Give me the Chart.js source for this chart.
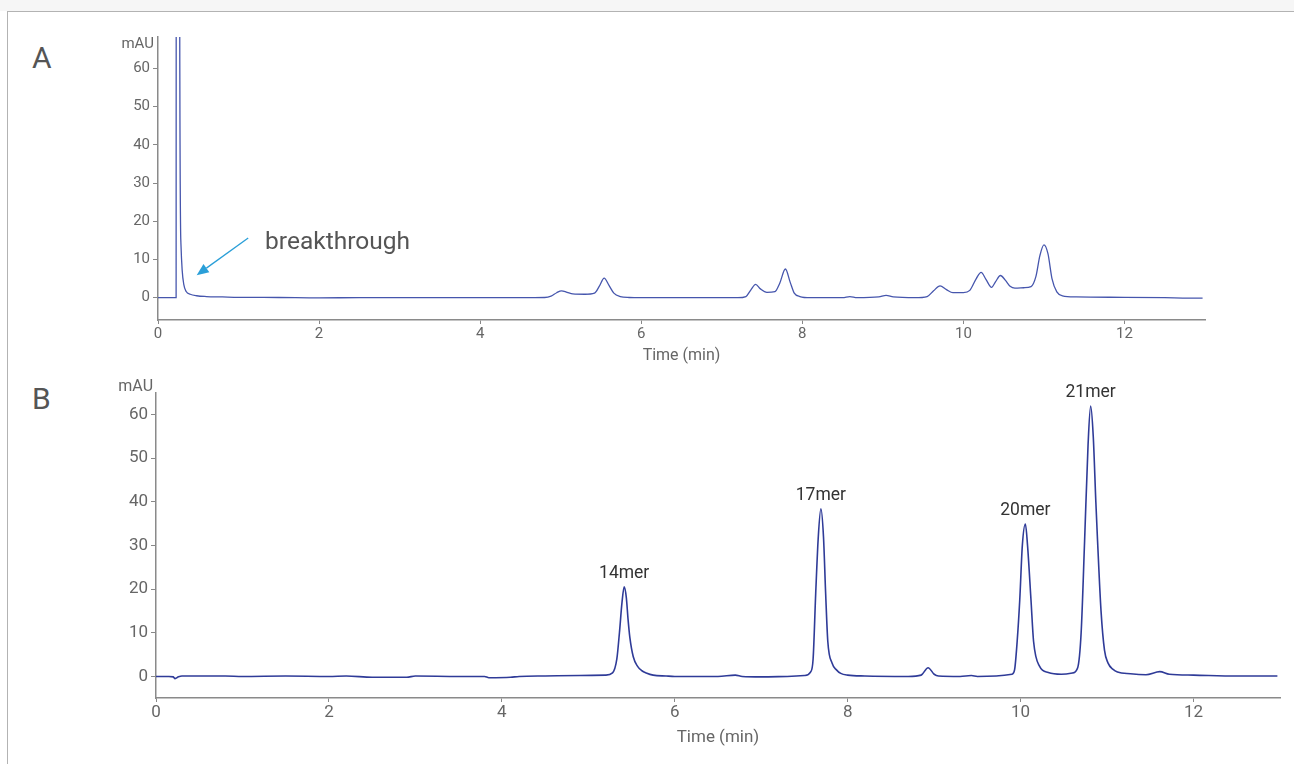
<!DOCTYPE html>
<html><head><meta charset="utf-8">
<script src="https://cdn.jsdelivr.net/npm/chart.js@4.4.1/dist/chart.umd.min.js"></script>
<style>
html,body{margin:0;padding:0;background:#fff;width:1294px;height:764px;overflow:hidden;font-family:Roboto,Arial,sans-serif;}
#strip{position:absolute;left:0;top:0;width:1294px;height:11px;background:#f6f6f6;}
#frame{position:absolute;left:7px;top:11px;width:1300px;height:800px;border-top:1.5px solid #b3b3b3;border-left:1.5px solid #b3b3b3;box-sizing:border-box;}
.panel{position:absolute;font-size:30px;color:#555;line-height:normal;}
#wA{position:absolute;left:0;top:0;width:1294px;height:366px;}
#wB{position:absolute;left:0;top:366px;width:1294px;height:382px;}
</style></head>
<body>
<div id="strip"></div><div id="frame"></div>
<div class="panel" style="left:32px;top:40px;">A</div>
<div class="panel" style="left:32px;top:381px;">B</div>
<div id="wA"><canvas id="cA" width="1294" height="366"></canvas></div>
<div id="wB"><canvas id="cB" width="1294" height="382"></canvas></div>
<script>
// ---- Data ----
const timeA = [0,0.22,0.225,0.23,0.265,0.27,0.285,0.3,0.32,0.35,0.4,0.48,0.6,0.8,1.0,1.5,2.0,2.5,3.0,3.5,4.0,4.5,4.8,4.88,4.95,5.01,5.08,5.15,5.3,5.42,5.48,5.54,5.6,5.66,5.74,5.85,6.0,6.5,7.0,7.2,7.3,7.36,7.42,7.48,7.56,7.66,7.72,7.79,7.85,7.9,7.97,8.1,8.5,8.59,8.68,8.95,9.04,9.13,9.4,9.55,9.63,9.71,9.79,9.87,10.0,10.08,10.16,10.22,10.28,10.35,10.4,10.46,10.52,10.58,10.64,10.75,10.84,10.9,10.95,11.0,11.05,11.1,11.16,11.23,11.4,12.0,12.5,12.8,12.97];
const signalA = [0,0,0,400,400,70,14,7.2,3.5,1.6,0.9,0.5,0.3,0.2,0.1,0.05,-0.05,0,0,0,0,0,0.05,0.4,1.3,1.8,1.4,1.0,0.9,1.2,3.0,5.1,3.2,1.2,0.3,0.05,0,0,0,0,0.3,2.0,3.5,2.3,1.4,1.6,3.8,7.5,4.0,1.2,0.3,0,0,0.3,0,0.2,0.6,0.2,0,0.3,1.8,3.1,2.1,1.3,1.3,1.9,5.0,6.6,4.8,2.7,4.2,5.8,4.6,3.0,2.5,2.6,2.9,5.5,11.0,13.8,11.5,5.0,1.5,0.5,0.2,0.1,0,-0.1,-0.1];

const timeB = [0,0.15,0.2,0.22,0.26,0.3,0.8,1.0,1.5,2.0,2.2,2.5,2.9,3.0,3.5,3.8,3.85,4.1,4.2,4.5,4.9,5.2,5.28,5.33,5.36,5.39,5.415,5.44,5.46,5.48,5.52,5.57,5.62,5.67,5.75,5.9,6.0,6.5,6.7,6.78,7.0,7.3,7.5,7.57,7.6,7.63,7.66,7.69,7.72,7.745,7.77,7.82,7.87,7.92,8.0,8.2,8.7,8.85,8.93,9.0,9.05,9.3,9.43,9.5,9.9,9.93,9.96,9.99,10.02,10.055,10.08,10.12,10.15,10.22,10.32,10.47,10.6,10.66,10.7,10.74,10.78,10.81,10.84,10.87,10.89,10.93,10.97,11.01,11.07,11.12,11.27,11.45,11.61,11.72,12.0,12.5,12.97];
const signalB = [0,0,-0.1,-0.5,-0.1,0.1,0.1,0,0.1,0,0.1,-0.2,-0.2,0.1,0,0,-0.3,-0.2,0,0.1,0.2,0.3,0.8,4,10,17,20.5,18,13,9,4.5,2.3,1.3,0.8,0.3,0.1,0,0,0.3,0,-0.1,0,0.2,1.0,4,19,32,38.4,32,19,8,3.0,1.5,0.7,0.3,0.1,0,0.3,2.0,0.5,0.1,0,0.2,0,0.5,1.5,8,17.5,30,34.9,30,17.5,8,2.3,0.9,0.5,0.8,2,10,31,53,61.9,55,40,31,15,6,3.1,1.6,1.0,0.6,0.4,1.1,0.5,0.3,0.1,0.1];

const peakLabels  = ['14mer','17mer','20mer','21mer'];
const peakTimes   = [5.415, 7.69, 10.055, 10.81];
const peakHeights = [20.5, 38.4, 34.9, 61.9];

const xTicks = [0,2,4,6,8,10,12];
const yTicks = [0,10,20,30,40,50,60];
const xTitle = 'Time (min)';
const yUnit = 'mAU';
const noteText = 'breakthrough';

// ---- Plugin for unit label, peak labels, annotation ----
const extras = {
  id: 'extras',
  afterDraw(chart, args, o) {
    const {ctx, chartArea, scales:{x, y}} = chart;
    ctx.save();
    ctx.fillStyle = '#666';
    ctx.font = o.unitFont;
    ctx.textAlign = 'right';
    ctx.textBaseline = 'middle';
    ctx.fillText(yUnit, chartArea.left + o.unitDx, chartArea.top + o.unitDy);
    if (o.peaks) {
      ctx.fillStyle = '#333';
      ctx.font = '17.5px Roboto, Arial, sans-serif';
      ctx.textAlign = 'center';
      ctx.textBaseline = 'middle';
      peakLabels.forEach((lab, i) => {
        ctx.fillText(lab, x.getPixelForValue(peakTimes[i]), y.getPixelForValue(peakHeights[i]) - 13);
      });
    }
    if (o.note) {
      const n = o.note;
      ctx.fillStyle = '#555';
      ctx.font = '24.5px Roboto, Arial, sans-serif';
      ctx.textAlign = 'left';
      ctx.textBaseline = 'alphabetic';
      ctx.fillText(noteText, x.getPixelForValue(n.text[0]), y.getPixelForValue(n.text[1]));
      const x0 = x.getPixelForValue(n.from[0]), y0 = y.getPixelForValue(n.from[1]);
      const x1 = x.getPixelForValue(n.to[0]), y1 = y.getPixelForValue(n.to[1]);
      ctx.strokeStyle = '#2a9fd8'; ctx.fillStyle = '#2a9fd8'; ctx.lineWidth = 1.3;
      const ang = Math.atan2(y1 - y0, x1 - x0);
      const hl = 12, hw = 5;
      const bx = x1 - hl * Math.cos(ang), by = y1 - hl * Math.sin(ang);
      ctx.beginPath(); ctx.moveTo(x0, y0); ctx.lineTo(bx, by); ctx.stroke();
      ctx.beginPath();
      ctx.moveTo(x1, y1);
      ctx.lineTo(bx + hw * Math.sin(ang), by - hw * Math.cos(ang));
      ctx.lineTo(bx - hw * Math.sin(ang), by + hw * Math.cos(ang));
      ctx.closePath(); ctx.fill();
    }
    ctx.restore();
  }
};

function makeChart(id, times, values, cfg) {
  const pts = times.map((t, i) => ({x: t, y: values[i]}));
  return new Chart(document.getElementById(id), {
    type: 'line',
    data: { datasets: [{ data: pts, borderColor: cfg.color, borderWidth: cfg.lw, pointRadius: 0, cubicInterpolationMode: 'monotone', fill: false }] },
    options: {
      responsive: false, animation: false, events: [],
      layout: { padding: cfg.padding },
      plugins: { legend: {display: false}, tooltip: {enabled: false}, extras: cfg.extras },
      scales: {
        x: {
          type: 'linear', min: 0, max: 13,
          afterBuildTicks: s => { s.ticks = xTicks.map(v => ({value: v})); },
          afterFit: s => { s.height = cfg.xH; },
          ticks: { color: '#666', font: {size: cfg.tickSize, family: 'Roboto, Arial, sans-serif'}, padding: 1, maxRotation: 0, autoSkip: false },
          grid: { drawOnChartArea: false, drawTicks: true, tickLength: 4, color: '#888' },
          border: { display: true, color: '#8a8a8a', width: 1.5 },
          title: { display: true, text: xTitle, color: '#666', font: {size: cfg.titleSize, family: 'Roboto, Arial, sans-serif'}, padding: {top: 0, bottom: 0} }
        },
        y: {
          min: cfg.ymin, max: cfg.ymax,
          afterBuildTicks: s => { s.ticks = yTicks.map(v => ({value: v})); },
          afterFit: s => { s.width = cfg.yW; },
          ticks: { color: '#666', font: {size: cfg.tickSize, family: 'Roboto, Arial, sans-serif'}, padding: 3 },
          grid: { drawOnChartArea: false, drawTicks: true, tickLength: 5, color: '#888' },
          border: { display: true, color: '#8a8a8a', width: 1.5 }
        }
      }
    },
    plugins: [extras]
  });
}

makeChart('cA', timeA, signalA, {
  color: '#4656ad', lw: 1.3, ymin: -5.84, ymax: 68.2, xH: 46, yW: 158, tickSize: 15, titleSize: 16,
  padding: {top: 37, right: 89, bottom: 0, left: 0},
  extras: { unitFont: '15px Roboto, Arial, sans-serif', unitDx: -4, unitDy: 7,
            note: { text: [1.33, 12.7], from: [1.12, 15.6], to: [0.48, 5.9] } }
});
makeChart('cB', timeB, signalB, {
  color: '#2f3b98', lw: 1.6, ymin: -4.94, ymax: 64.9, xH: 50, yW: 156, tickSize: 17, titleSize: 17,
  padding: {top: 27, right: 14, bottom: 0, left: 0},
  extras: { unitFont: '16px Roboto, Arial, sans-serif', unitDx: -3, unitDy: -6, peaks: true }
});
</script>
</body></html>
